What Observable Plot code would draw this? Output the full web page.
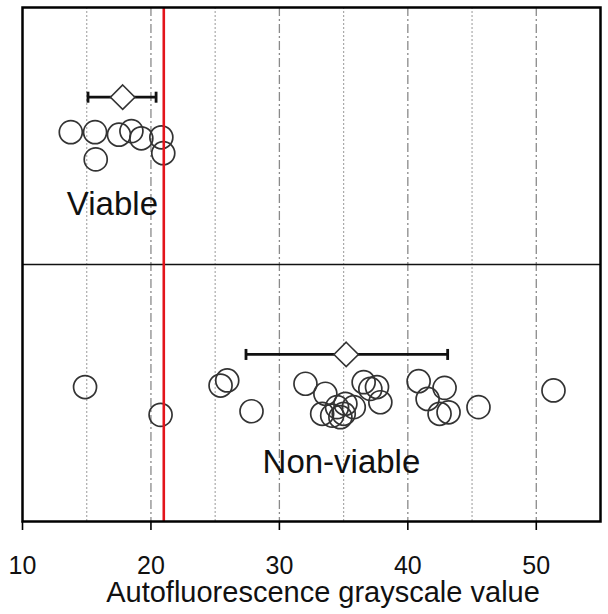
<!DOCTYPE html>
<html>
<head>
<meta charset="utf-8">
<script src="https://cdn.jsdelivr.net/npm/d3@7"></script>
<script src="https://cdn.jsdelivr.net/npm/@observablehq/plot@0.6"></script>
<style>
  body { margin: 0; background: #fff; }
</style>
</head>
<body>
<div id="chart"></div>
<script>
// ---- data ----
const groups = ["Viable", "Non-viable"];

// individual samples (x = autofluorescence grayscale value, y = vertical jitter position, 0 = top, 200 = bottom)
const viableX = [13.76, 15.65, 17.51, 18.48, 19.25, 20.81, 20.96, 15.70];
const viableY = [48.5, 48.5, 49.5, 48.1, 50.9, 50.5, 56.7, 59.1];

const nonViableX = [14.87, 20.75, 25.42, 25.94, 27.83, 32.03, 33.58, 33.33, 34.49, 35.14, 34.75, 35.01, 35.79,
                    34.11, 36.56, 37.08, 37.60, 37.86, 40.84, 42.86, 41.54, 42.47, 43.17, 45.50, 51.34];
const nonViableY = [147.7, 158.5, 147.1, 145.1, 157.1, 146.4, 150.3, 158.1, 155.5, 154.2, 159.4, 158.1, 155.5,
                    158.8, 145.8, 148.4, 147.7, 153.6, 145.4, 148.0, 152.3, 158.1, 157.5, 155.5, 149.0];

// summary (mean and range bar) per group
const meanX = [17.8, 35.2];
const lowX = [15.1, 27.4];
const highX = [20.4, 43.1];
const barY = [34.9, 135.0];

// group label positions
const labelX = [17.0, 34.83];
const labelY = [76.8, 177.1];

const threshold = [21];
const divider = [100];
const xTicks = [10, 20, 30, 40, 50];
const majorGrid = [20, 30, 40, 50];
const minorGrid = [15, 25, 35, 45];
const xTitle = "Autofluorescence grayscale value";

// ---- build tables ----
const points = [
  ...viableX.map((x, i) => ({group: groups[0], x, y: viableY[i]})),
  ...nonViableX.map((x, i) => ({group: groups[1], x, y: nonViableY[i]}))
];
const stats = groups.map((g, i) => ({group: g, mean: meanX[i], lo: lowX[i], hi: highX[i], y: barY[i]}));
const labels = groups.map((g, i) => ({text: g, x: labelX[i], y: labelY[i]}));

const capSymbol = {
  draw(ctx, size) {
    const h = Math.sqrt(size / Math.PI);
    ctx.moveTo(0, -h);
    ctx.lineTo(0, h);
  }
};

const chart = Plot.plot({
  width: 608,
  height: 614,
  marginLeft: 22,
  marginRight: 8,
  marginTop: 7,
  marginBottom: 93,
  style: {fontFamily: "'Liberation Sans', Arial, sans-serif", background: "#fff", color: "#000"},
  x: {domain: [10, 55]},
  y: {domain: [0, 200], reverse: true, axis: null},
  marks: [
    Plot.ruleX(minorGrid, {stroke: "#aaa", strokeWidth: 1.2, strokeDasharray: "2,2"}),
    Plot.ruleX(majorGrid, {stroke: "#8a8a8a", strokeWidth: 1.3, strokeDasharray: "9,3,2,3"}),
    Plot.ruleY(divider, {stroke: "#111", strokeWidth: 1.6}),
    Plot.dot(points, {x: "x", y: "y", r: 11.5, stroke: "#333", strokeWidth: 1.7, fill: "none"}),
    Plot.ruleY(stats, {x1: "lo", x2: "hi", y: "y", stroke: "#111", strokeWidth: 2.8}),
    Plot.dot(stats, {x: "lo", y: "y", symbol: capSymbol, r: 5.5, stroke: "#111", strokeWidth: 2.8, fill: "none"}),
    Plot.dot(stats, {x: "hi", y: "y", symbol: capSymbol, r: 5.5, stroke: "#111", strokeWidth: 2.8, fill: "none"}),
    Plot.dot(stats, {x: "mean", y: "y", symbol: "diamond2", r: 11, stroke: "#333", strokeWidth: 1.6, fill: "#fff"}),
    Plot.ruleX(threshold, {stroke: "#e3141b", strokeWidth: 2.6}),
    Plot.text(labels, {x: "x", y: "y", text: "text", fontSize: 33, fill: "#111", lineAnchor: "middle"}),
    Plot.frame({stroke: "#000", strokeWidth: 2.5}),
    Plot.axisX({ticks: xTicks, tickSize: 9, tickPadding: 26, fontSize: 25, stroke: "#000", fill: "#111",
                strokeWidth: 1.6, label: null, tickFormat: d => String(d)}),
    Plot.text([xTitle], {text: d => d, frameAnchor: "bottom", dx: 11.5, dy: 71.7, fontSize: 29,
                         lineAnchor: "middle", fill: "#111"})
  ]
});
document.getElementById("chart").appendChild(chart);
</script>
</body>
</html>
